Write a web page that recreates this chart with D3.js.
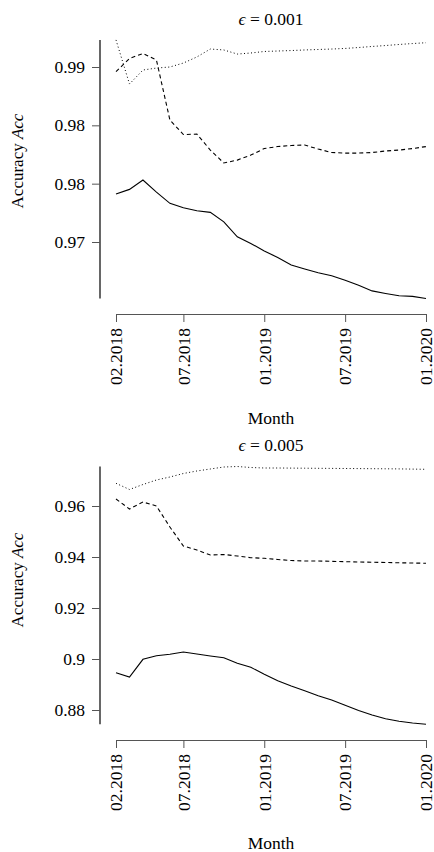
<!DOCTYPE html>
<meta charset="utf-8">
<script src="https://cdn.jsdelivr.net/npm/d3@7"></script>
<style>
  body { margin: 0; background: #fff; }
  svg text { font-family: "Liberation Serif", "DejaVu Serif", serif !important; fill: #000; }
</style>
<div id="chart"></div>
<script>
// months 02.2018 .. 01.2020 (24 points)
var months = d3.range(24);
var monthTicks = [0, 5, 11, 17, 23];
var monthLabels = ["02.2018", "07.2018", "01.2019", "07.2019", "01.2020"];

// eps = 0.001
var solid1 = [0.97911, 0.97951, 0.98031, 0.97928, 0.97831, 0.97793, 0.97768, 0.97754,
              0.97673, 0.97545, 0.97488, 0.97422, 0.97368, 0.97302, 0.97268, 0.97236,
              0.97210, 0.97173, 0.97130, 0.97081, 0.97059, 0.97039, 0.97034, 0.97016];
var dashed1 = [0.98960, 0.99073, 0.99116, 0.99060, 0.98545, 0.98421, 0.98425, 0.98288,
               0.98177, 0.98202, 0.98245, 0.98301, 0.98318, 0.98327, 0.98331, 0.98297,
               0.98267, 0.98262, 0.98262, 0.98267, 0.98280, 0.98288, 0.98301, 0.98318];
var dotted1 = [0.99232, 0.98854, 0.98974, 0.98991, 0.99000, 0.99034, 0.99086, 0.99154,
               0.99146, 0.99111, 0.99120, 0.99133, 0.99137, 0.99141, 0.99146, 0.99150,
               0.99154, 0.99159, 0.99167, 0.99176, 0.99184, 0.99193, 0.99201, 0.99208];
var yTicks1 = [0.99, 0.985, 0.98, 0.975];
var yLabels1 = ["0.99", "0.98", "0.98", "0.97"];

// eps = 0.005
var solid2 = [0.89463, 0.89294, 0.89988, 0.90129, 0.90184, 0.90275, 0.90196, 0.90118,
              0.90051, 0.89831, 0.89675, 0.89400, 0.89149, 0.88941, 0.88757, 0.88561,
              0.88392, 0.88188, 0.87980, 0.87804, 0.87659, 0.87557, 0.87490, 0.87439];
var dashed2 = [0.96275, 0.95882, 0.96157, 0.96000, 0.95176, 0.94431, 0.94275, 0.94078,
               0.94098, 0.94039, 0.93973, 0.93949, 0.93902, 0.93863, 0.93843, 0.93843,
               0.93831, 0.93816, 0.93804, 0.93796, 0.93784, 0.93773, 0.93765, 0.93753];
var dotted2 = [0.96890, 0.96647, 0.96843, 0.97020, 0.97137, 0.97275, 0.97373, 0.97451,
               0.97529, 0.97549, 0.97510, 0.97490, 0.97490, 0.97486, 0.97482, 0.97478,
               0.97475, 0.97471, 0.97467, 0.97463, 0.97459, 0.97455, 0.97447, 0.97439];
var yTicks2 = [0.96, 0.94, 0.92, 0.90, 0.88];
var yLabels2 = ["0.96", "0.94", "0.92", "0.9", "0.88"];

var panels = [
  {eps: "0.001", series: [solid1, dashed1, dotted1], ticks: yTicks1, labels: yLabels1,
   domain: [0.975, 0.99], range: [242, 67], labelY: 161},
  {eps: "0.005", series: [solid2, dashed2, dotted2], ticks: yTicks2, labels: yLabels2,
   domain: [0.88, 0.96], range: [284, 80], labelY: 154}
];
var dashes = [null, "4,3", "1,2.5"];

var W = 434, H = 852, panelH = 426;
var fs = "17.5px";
var serif = "'Liberation Serif', 'DejaVu Serif', serif";
var svg = d3.select("#chart").append("svg")
  .attr("width", W).attr("height", H)
  .attr("font-family", serif);

var x = d3.scaleLinear().domain([0, 23]).range([116, 426]);

panels.forEach(function(p, pi) {
  var g = svg.append("g").attr("transform", "translate(0," + (pi * panelH) + ")");
  var y = d3.scaleLinear().domain(p.domain).range(p.range);

  // lines
  var line = d3.line().x(function(d, i) { return x(months[i]); }).y(function(d) { return y(d); });
  p.series.forEach(function(s, si) {
    g.append("path")
      .attr("d", line(s))
      .attr("fill", "none")
      .attr("stroke", "#000")
      .attr("stroke-width", si == 2 ? 1 : 1.1)
      .attr("stroke-dasharray", dashes[si]);
  });

  // y axis: line spans the data extent
  var ext = d3.extent([].concat(p.series[0], p.series[1], p.series[2]));
  g.append("line")
    .attr("x1", 100).attr("x2", 100)
    .attr("y1", y(ext[1])).attr("y2", y(ext[0]))
    .attr("stroke", "#000").attr("stroke-width", 1.2);

  var yAxis = g.append("g").attr("transform", "translate(100,0)")
    .call(d3.axisLeft(y).tickValues(p.ticks)
      .tickFormat(function(d, i) { return p.labels[i]; })
      .tickSize(8).tickPadding(7));
  yAxis.attr("font-family", serif);
  yAxis.select(".domain").remove();
  yAxis.selectAll(".tick line").attr("stroke", "#555");
  yAxis.selectAll("text").style("font-size", fs).style("font-family", serif);

  // x axis
  var xAxis = g.append("g").attr("transform", "translate(0,314)")
    .call(d3.axisBottom(x).tickValues(monthTicks)
      .tickFormat(function(d, i) { return monthLabels[i]; })
      .tickSize(8).tickSizeOuter(0));
  xAxis.attr("font-family", serif);
  xAxis.select(".domain").attr("stroke", "#555");
  xAxis.selectAll(".tick line").attr("stroke", "#555");
  xAxis.selectAll("text")
    .style("font-family", serif)
    .style("font-size", fs)
    .attr("transform", "rotate(-90)")
    .attr("text-anchor", "end")
    .attr("x", -14).attr("y", 0).attr("dy", "0.33em");

  // title
  var t = g.append("text").attr("x", 271).attr("y", 25)
    .attr("text-anchor", "middle").style("font-size", fs).style("font-family", serif);
  t.append("tspan").style("font-style", "italic").text("\u03f5");
  t.append("tspan").text(" = " + p.eps);

  // axis titles
  g.append("text").attr("x", 271).attr("y", pi == 0 ? 424 : 423)
    .attr("text-anchor", "middle").style("font-size", fs).style("font-family", serif)
    .text("Month");

  var yl = g.append("text")
    .attr("transform", "translate(23," + p.labelY + ") rotate(-90)")
    .attr("text-anchor", "middle").style("font-size", "17px").style("font-family", serif);
  yl.append("tspan").text("Accuracy ");
  yl.append("tspan").style("font-style", "italic").text("Acc");
});
</script>
